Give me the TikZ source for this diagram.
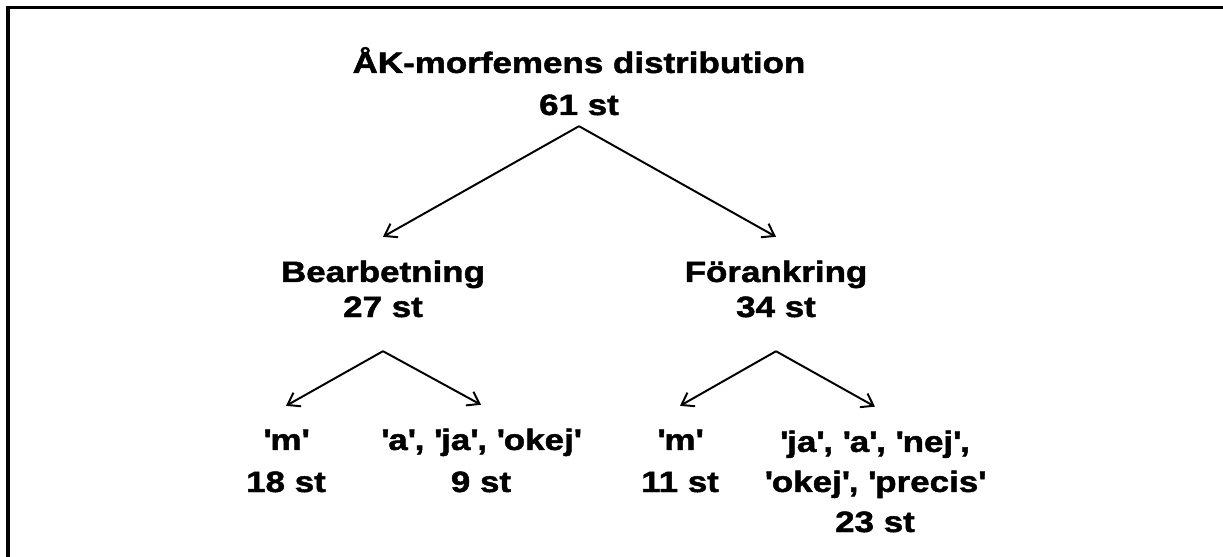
\documentclass[tikz,border=0pt]{standalone}
\usepackage{fontspec}
\setmainfont{Liberation Sans}
\newfontfamily\treefont{Liberation Sans Bold}[FakeStretch=1.19, FakeBold=1.6]
\usetikzlibrary{arrows.meta}
\newcommand{\quoteword}[1]{\textquotesingle #1\textquotesingle}
\tikzstyle{countNode}=[align=center, inner sep=0pt, outer ysep=17pt, anchor=base, font=\treefont\fontsize{20.9}{29.9}\selectfont]
\tikzstyle{midNode}=[countNode, font=\treefont\fontsize{20.9}{24.9}\selectfont]
\tikzstyle{branch}=[-{Straight Barb[length=2.8mm, width=3.9mm]}, line width=1.4pt]

\begin{document}
\begin{tikzpicture}[x=0.025cm, y=-0.025cm]
\useasboundingbox (0,0) rectangle (1223,557);
\draw[line width=2.2pt] (8,557) -- (8,7.5) -- (1223,7.5);
% top level
\node (distribution) [countNode] at (579,115) {ÅK-morfemens distribution\\61 st};
\path (distribution.south)+(0,-13) coordinate (distFork);
% second level
\node (bearbetning) [midNode] at (383,317) {Bearbetning\\27 st};
\node (forankring) [midNode] at (776,317) {Förankring\\34 st};
\path (bearbetning.south)+(0,10) coordinate (bearFork);
\path (forankring.south)+(0,10) coordinate (forFork);
% leaves
\node (bearM) [countNode] at (286,492) {\quoteword{m}\\18 st};
\node (bearOther) [countNode] at (481,492) {\quoteword{a}, \quoteword{ja}, \quoteword{okej}\\9 st};
\node (forM) [countNode] at (680,492) {\quoteword{m}\\11 st};
\node (forOther) [countNode, font=\treefont\fontsize{20.9}{28.5}\selectfont] at (875,532)
  {\quoteword{ja}, \quoteword{a}, \quoteword{nej},\\\quoteword{okej}, \quoteword{precis}\\23 st};
\draw[branch] (distFork) -- (bearbetning.north);
\draw[branch] (distFork) -- (forankring.north);
\draw[branch] (bearFork) -- (bearM.north);
\draw[branch] (bearFork) -- (bearOther.north);
\draw[branch] (forFork) -- (forM.north);
\draw[branch] (forFork) -- (forOther.north);
\end{tikzpicture}
\end{document}
